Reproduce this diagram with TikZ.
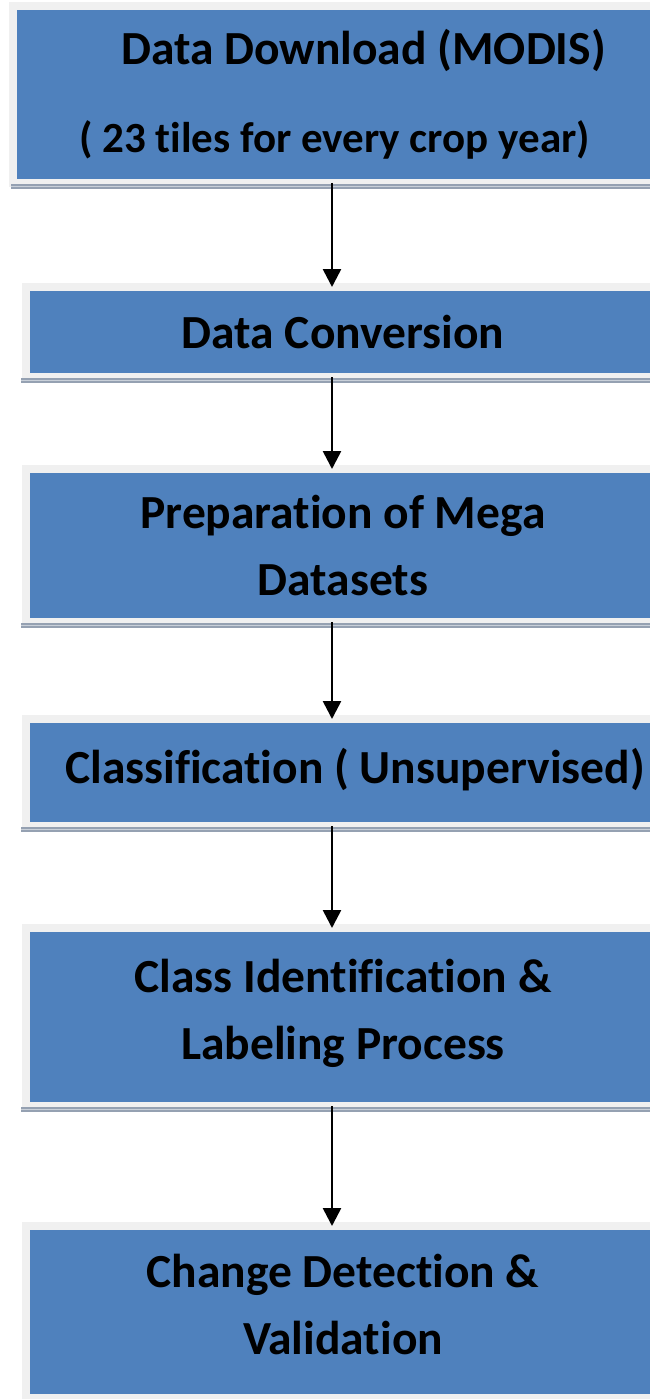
\documentclass[tikz,border=0pt]{standalone}
\usepackage{fontspec}
\setmainfont{Carlito}[Ligatures=NoCommon]
\usetikzlibrary{arrows.meta}
\definecolor{boxblue}{HTML}{4F81BD}
\definecolor{rim}{HTML}{F0F0F0}
\definecolor{shade}{HTML}{95A1B2}
\definecolor{shadelight}{HTML}{C9D0D9}
\newcommand{\lift}[1]{\rule[-#1pt]{0pt}{0pt}}

\begin{document}
\begin{tikzpicture}[x=1pt,y=-1pt,
  stage/.style={rectangle,fill=boxblue,draw=rim,line width=8pt,outer sep=0pt,
    inner sep=0pt,align=center,font=\fontsize{47.5}{67}\selectfont\bfseries},
  shadowline/.style={draw=shade,line width=5pt},
  shadowmid/.style={draw=shadelight,line width=1pt},
  flow/.style={-{Triangle[length=18pt,width=18pt]},line width=2.6pt}]
\useasboundingbox (0,0) rectangle (649,1399);
\coordinate (axis) at (332,0);
% stages
\node[stage,minimum width=643,minimum height=177] (download) at (334.5,94.5)
  {\hspace*{58pt}Data Download (MODIS)\\[21pt]{\fontsize{43}{60}\selectfont( 23 tiles for every crop year)}};
\node[stage,minimum width=634,minimum height=90] (conversion) at (343,332) {Data Conversion};
\node[stage,minimum width=634,minimum height=153] (mega) at (343,545.5)
  {Preparation of Mega\\Datasets};
\node[stage,minimum width=634,minimum height=107] (classif) at (343,772.5)
  {\hspace*{24pt}Classification ( Unsupervised)\lift{14}};
\node[stage,minimum width=634,minimum height=178] (labeling) at (343,1017)
  {Class Identification \&\\Labeling Process\lift{16}};
\node[stage,minimum width=634,minimum height=172] (change) at (343,1312)
  {Change Detection \&\\Validation\lift{16}};
% shadows under the boxes
\foreach \b/\dx in {download/-2,conversion/-5,mega/-5,classif/-5,labeling/-5}{
  \draw[shadowline] ([shift={(\dx,3.5)}]\b.south west) -- ([shift={(0,3.5)}]\b.south east);
  \draw[shadowmid] ([shift={(\dx,3.5)}]\b.south west) -- ([shift={(0,3.5)}]\b.south east);
}
% arrows
\draw[flow] (download.south -| axis) -- (conversion.north -| axis);
\draw[flow] (conversion.south -| axis) -- (mega.north -| axis);
\draw[flow] (mega.south -| axis) -- (classif.north -| axis);
\draw[flow] (classif.south -| axis) -- (labeling.north -| axis);
\draw[flow] (labeling.south -| axis) -- (change.north -| axis);
\end{tikzpicture}
\end{document}
